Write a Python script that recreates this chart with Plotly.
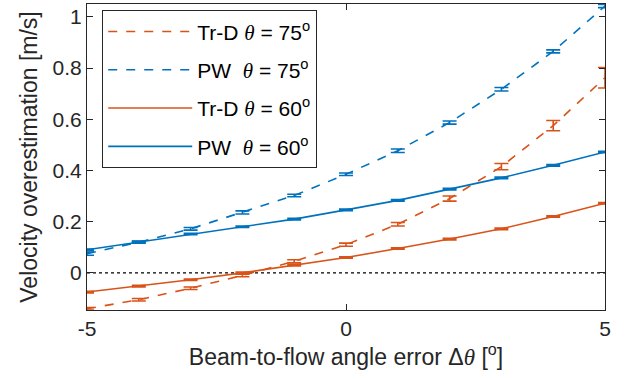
import plotly.graph_objects as go

angle_err = [-5, -4, -3, -2, -1, 0, 1, 2, 3, 4, 5]

trd75 = [-0.14, -0.105, -0.06, -0.01, 0.045, 0.11, 0.19, 0.29, 0.415, 0.575, 0.762]
trd75_err = [0.005, 0.005, 0.005, 0.005, 0.006, 0.006, 0.007, 0.01, 0.012, 0.02, 0.04]

pw75 = [0.075, 0.12, 0.172, 0.236, 0.302, 0.385, 0.477, 0.587, 0.717, 0.865, 1.042]
pw75_err = [0.006, 0.004, 0.005, 0.006, 0.005, 0.005, 0.007, 0.006, 0.007, 0.006, 0.006]

trd60 = [-0.075, -0.052, -0.027, 0.0, 0.03, 0.06, 0.095, 0.132, 0.172, 0.22, 0.272]
trd60_err = [0.003] * 11

pw60 = [0.09, 0.12, 0.152, 0.18, 0.21, 0.246, 0.283, 0.327, 0.371, 0.42, 0.472]
pw60_err = [0.003] * 11

ORANGE = "#D95319"
BLUE = "#0072BD"
AX = "#262626"
FONT = "Liberation Sans, Arial, sans-serif"

TH = '<span style="font-family:Liberation Serif"><i>θ</i></span>'
names = [
    f"Tr-D {TH} = 75<sup>o</sup>",
    f"PW\u00a0\u00a0{TH} = 75<sup>o</sup>",
    f"Tr-D {TH} = 60<sup>o</sup>",
    f"PW\u00a0\u00a0{TH} = 60<sup>o</sup>",
]
series = [(trd75, trd75_err, ORANGE, "dash"),
          (pw75, pw75_err, BLUE, "dash"),
          (trd60, trd60_err, ORANGE, "solid"),
          (pw60, pw60_err, BLUE, "solid")]

fig = go.Figure()
for i, ((y, e, c, d), n) in enumerate(zip(series, names)):
    fig.add_trace(go.Scatter(
        x=angle_err, y=y, mode="lines", name=n, legendgroup=f"g{i}",
        line=dict(color=c, width=1.6, dash=d),
        error_y=dict(type="data", array=e, visible=True, color=c, thickness=1.6, width=7),
    ))

fig.add_hline(y=0, line=dict(color="black", width=1.2, dash="dot"), layer="below")

fig.update_layout(
    width=633, height=379,
    margin=dict(l=87, r=28, t=4, b=69),
    plot_bgcolor="white", paper_bgcolor="white",
    font=dict(family=FONT, size=21, color=AX),
    showlegend=True,
    legend=dict(
        x=0.029, y=0.98, xanchor="left", yanchor="top",
        bgcolor="white", bordercolor=AX, borderwidth=1.2,
        font=dict(size=21, color="black"),
        traceorder="grouped", tracegroupgap=8, itemwidth=84,
    ),
    xaxis=dict(
        range=[-5, 5], tickvals=[-5, 0, 5], ticktext=["-5", "0", "5"],
        showline=True, linecolor=AX, linewidth=1.2, mirror="ticks",
        ticks="inside", ticklen=6, tickcolor=AX, showgrid=False, zeroline=False,
        title=dict(text="Beam-to-flow angle error Δ" + TH + " [<sup>o</sup>]", font=dict(size=23), standoff=6),
    ),
    yaxis=dict(
        range=[-0.145, 1.05], tickvals=[0, 0.2, 0.4, 0.6, 0.8, 1],
        ticktext=["0", "0.2", "0.4", "0.6", "0.8", "1"],
        showline=True, linecolor=AX, linewidth=1.2, mirror="ticks",
        ticks="inside", ticklen=6, tickcolor=AX, showgrid=False, zeroline=False,
        title=dict(text="Velocity overestimation [m/s]", font=dict(size=23), standoff=8),
    ),
)

fig.write_html("out.html")
